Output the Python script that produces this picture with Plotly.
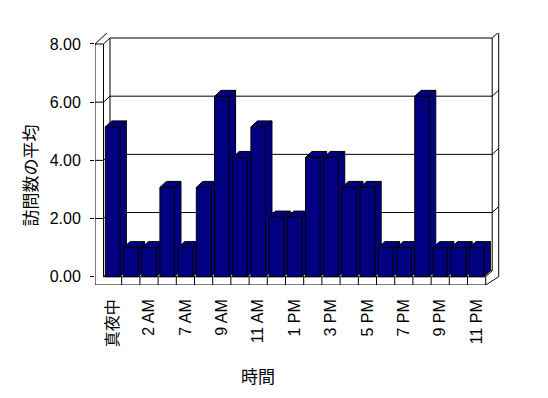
import plotly.graph_objects as go

# ---- data ----
categories = ["真夜中", "1 AM", "2 AM", "6 AM", "7 AM", "8 AM", "9 AM", "10 AM", "11 AM",
              "12 PM", "1 PM", "2 PM", "3 PM", "4 PM", "5 PM", "6 PM", "7 PM", "8 PM",
              "9 PM", "10 PM", "11 PM"]
avg_visits = [5.15, 1.0, 1.0, 3.07, 1.0, 3.07, 6.2, 4.1, 5.15, 2.05, 2.05, 4.1, 4.1,
              3.07, 3.07, 1.0, 1.0, 6.2, 1.0, 1.0, 1.0]
y_ticks = [0, 2, 4, 6, 8]
y_tick_text = ["0.00", "2.00", "4.00", "6.00", "8.00"]
x_title = "時間"
y_title = "訪問数の平均"

# ---- style / geometry (data units) ----
BAR_COLOR = "#000080"
N = len(categories)
W = 0.8            # bar width
DX, DY = 0.357, 0.206   # 3-D depth offset
WT = 0.467         # left wall thickness
FT = 0.285         # floor thickness
YMAX = 8
XL = -0.5 - WT
X0 = -0.5
XR = N - 0.5

line = dict(color="black", width=1)
shapes = []

def seg(x0, y0, x1, y1):
    shapes.append(dict(type="line", xref="x", yref="y", x0=x0, y0=y0, x1=x1, y1=y1,
                       line=line, layer="below"))

def poly(pts, fill=None):
    d = "M " + " L ".join(f"{x},{y}" for x, y in pts) + " Z"
    s = dict(type="path", xref="x", yref="y", path=d, line=line, layer="below")
    if fill:
        s["fillcolor"] = fill
    shapes.append(s)

# outer outline
poly([(XL, -FT), (XL, YMAX), (XL + 2 * DX, YMAX + 2 * DY), (XR + 2 * DX, YMAX + 2 * DY),
      (XR + 2 * DX, 0), (XR, -FT)])
# left wall
seg(X0, 0, X0, YMAX)
seg(XL, YMAX, X0, YMAX)
seg(X0, YMAX, X0 + DX, YMAX + DY)
seg(X0, 0, X0 + DX, DY)
# back wall inner
poly([(X0 + DX, DY), (X0 + DX, YMAX + DY), (XR + DX, YMAX + DY), (XR + DX, DY)])
seg(XR + DX, YMAX + DY, XR + 2 * DX, YMAX + 2 * DY)
# floor
seg(X0, 0, XR, 0)
seg(XR, 0, XR + DX, DY)
seg(XR, 0, XR, -FT)
for i in range(N - 1):
    seg(i + 0.5, 0, i + 0.5, -FT)
# gridlines
for v in y_ticks[1:-1]:
    seg(X0 + DX, v + DY, XR + DX, v + DY)
    seg(X0, v, X0 + DX, v + DY)
    seg(XL, v, X0, v)
    seg(XR + DX, v + DY, XR + 2 * DX, v + 2 * DY)

# 3-D bar faces (top + side), computed from the data
for i, v in enumerate(avg_visits):
    xl, xr = i - W / 2, i + W / 2
    poly([(xr, 0), (xr, v), (xr + DX, v + DY), (xr + DX, DY)], BAR_COLOR)
    poly([(xl, v), (xr, v), (xr + DX, v + DY), (xl + DX, v + DY)], BAR_COLOR)

fig = go.Figure(go.Bar(
    x=list(range(N)), y=avg_visits, width=W,
    marker=dict(color=BAR_COLOR, line=dict(color="black", width=1)),
    hoverinfo="skip",
))

# page has an 8px body margin: figure is drawn 8px right/down
FW, FH = 540, 390
PW, PH = 405, 252
L, T = 87, 25
R, B = FW - L - PW, FH - T - PH
PX_X, PX_Y = 18.2, 29.09
xr0 = XL
xr1 = xr0 + PW / PX_X
yr0 = -FT
yr1 = yr0 + PH / PX_Y

FONT = "Liberation Sans, Noto Sans CJK JP, sans-serif"
fig.update_layout(
    width=FW, height=FH,
    margin=dict(l=L, r=R, t=T, b=B, autoexpand=False),
    paper_bgcolor="white", plot_bgcolor="white",
    font=dict(family=FONT, color="black", size=16),
    showlegend=False,
    shapes=shapes,
    xaxis=dict(range=[xr0, xr1], tickvals=list(range(0, N, 2)), ticktext=categories[::2],
               tickangle=-90, ticks="", showgrid=False, zeroline=False, showline=False,
               tickfont=dict(size=16, family=FONT, color="black"), ticklabelstandoff=10,
               automargin=False),
    yaxis=dict(range=[yr0, yr1], tickvals=y_ticks, ticktext=y_tick_text,
               ticks="outside", ticklen=4, tickcolor="black", showgrid=False,
               zeroline=False, showline=False,
               tickfont=dict(size=16, family=FONT, color="black"),
               ticklabelstandoff=6, automargin=False),
    annotations=[
        dict(text=x_title, xref="paper", yref="paper", x=(258 - 95) / PW,
             y=(285 - 375.5) / PH, xanchor="center", yanchor="middle",
             showarrow=False, font=dict(size=17, family="Noto Sans CJK JP")),
        dict(text=y_title, xref="paper", yref="paper", x=(28.5 - 95) / PW,
             y=(285 - 176) / PH, xanchor="center", yanchor="middle",
             textangle=-90, showarrow=False, font=dict(size=17, family="Noto Sans CJK JP")),
    ],
)

fig.write_html("out.html")
